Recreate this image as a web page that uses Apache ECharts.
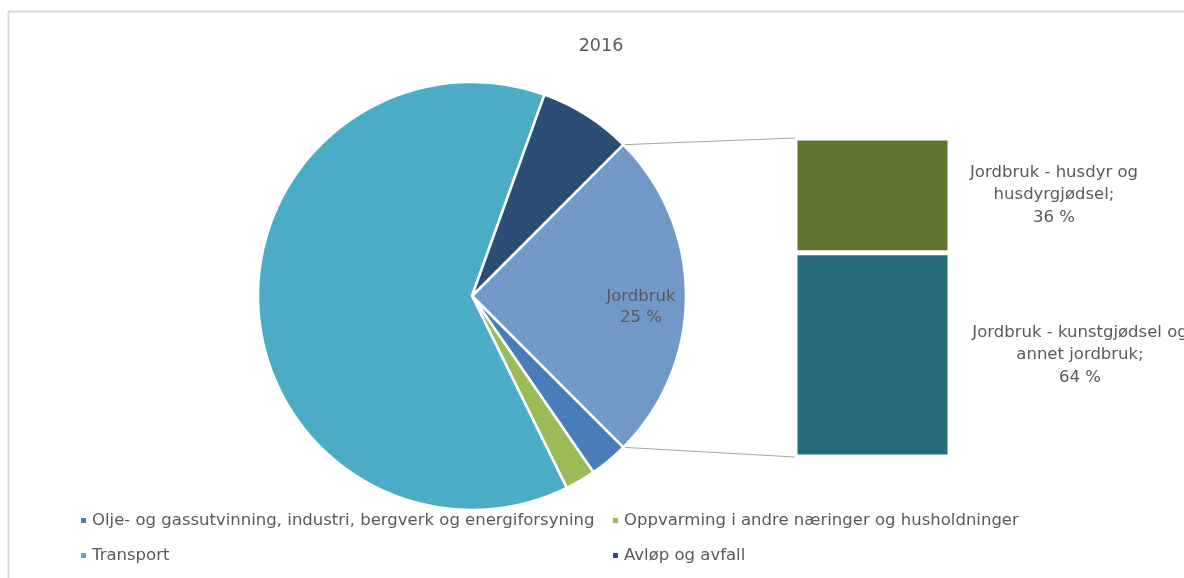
<!DOCTYPE html>
<html>
<head>
<meta charset="utf-8">
<script src="https://cdn.jsdelivr.net/npm/echarts@6/dist/echarts.min.js"></script>
<style>
  html, body { margin: 0; padding: 0; background: #fff; }
  #chart { width: 1184px; height: 578px; }
</style>
</head>
<body>
<div id="chart"></div>
<script>
// Kategorier og andeler (prosent) i sektordiagrammet
const pieNames = [
  'Jordbruk',
  'Olje- og gassutvinning, industri, bergverk og energiforsyning',
  'Oppvarming i andre næringer og husholdninger',
  'Transport',
  'Avløp og avfall'
];
const pieValues = [25, 2.9, 2.3, 62.8, 7.0];
const pieColors = ['#7099c8', '#4a7ebb', '#9bbb59', '#4bacc6', '#2c4d75'];

// Fordeling av jordbruk (stolpen til høyre)
const barNames = ['Jordbruk - kunstgjødsel og\nannet jordbruk;', 'Jordbruk - husdyr og\nhusdyrgjødsel;'];
const barValues = [64, 36];
const barColors = ['#276a7c', '#5f7530'];

const title = '2016';

// Geometri
const CX = 472, CY = 296, R = 214;
const BAR_LEFT = 795, BAR_TOP = 138, BAR_W = 155, BAR_H = 319;

const total = pieValues.reduce((a, b) => a + b, 0);
const halfAngle = pieValues[0] / total * 360 / 2; // Jordbruk sentrert mot høyre

const textColor = '#595959';
const font = 'DejaVu Sans';

const chart = echarts.init(document.getElementById('chart'));

// Forbindelseslinjer fra sektorkant til stolpehjørner
const rad = halfAngle * Math.PI / 180;
const topPt = [CX + R * Math.cos(rad), CY - R * Math.sin(rad)];
const botPt = [CX + R * Math.cos(rad), CY + R * Math.sin(rad)];

const legendBase = {
  orient: 'vertical',
  top: 512,
  padding: 0,
  itemGap: 18,
  icon: 'rect',
  itemWidth: 7,
  itemHeight: 7,
  selectedMode: false,
  textStyle: { fontFamily: font, fontSize: 16.5, color: textColor }
};

const option = {
  backgroundColor: '#fff',
  animation: false,
  title: {
    text: title,
    left: 596,
    top: 32,
    textAlign: 'center',
    textStyle: { fontFamily: font, fontSize: 17.5, fontWeight: 'normal', color: textColor }
  },
  graphic: [
    {
      type: 'rect',
      shape: { x: 8.5, y: 11.5, width: 1300, height: 700 },
      style: { fill: 'none', stroke: '#d9d9d9', lineWidth: 2 },
      z: -1
    },
    {
      type: 'line',
      shape: { x1: topPt[0], y1: topPt[1], x2: BAR_LEFT, y2: BAR_TOP },
      style: { stroke: '#a6a6a6', lineWidth: 1 }
    },
    {
      type: 'line',
      shape: { x1: botPt[0], y1: botPt[1], x2: BAR_LEFT, y2: BAR_TOP + BAR_H },
      style: { stroke: '#a6a6a6', lineWidth: 1 }
    }
  ],
  legend: [
    Object.assign({}, legendBase, { left: 79, data: [pieNames[1], pieNames[3]] }),
    Object.assign({}, legendBase, { left: 611, data: [pieNames[2], pieNames[4]] })
  ],
  grid: { left: BAR_LEFT, top: BAR_TOP, width: BAR_W, height: BAR_H },
  xAxis: { type: 'category', data: ['Jordbruk'], show: false },
  yAxis: { type: 'value', min: 0, max: 100, show: false },
  series: [
    {
      type: 'pie',
      center: [CX, CY],
      radius: R,
      startAngle: halfAngle,
      clockwise: true,
      avoidLabelOverlap: false,
      itemStyle: { borderColor: '#fff', borderWidth: 2.5 },
      label: { show: false },
      labelLine: { show: false },
      emphasis: { disabled: true },
      labelLayout: (p) => (p.dataIndex === 0 ? { dx: 59, dy: 11 } : {}),
      data: pieNames.map((n, i) => ({
        name: n,
        value: pieValues[i],
        itemStyle: { color: pieColors[i] },
        label: i === 0 ? {
          show: true,
          position: 'inside',
          formatter: '{b}\n' + Math.round(pieValues[i]) + ' %',
          fontFamily: font,
          fontSize: 16.5,
          lineHeight: 21,
          color: textColor
        } : { show: false }
      }))
    },
    ...barNames.map((n, i) => ({
      type: 'bar',
      name: n,
      stack: 'jordbruk',
      barWidth: '100%',
      emphasis: { disabled: true },
      itemStyle: { color: barColors[i], borderColor: '#fff', borderWidth: 2.5 },
      label: {
        show: true,
        position: i === 0 ? [285, 102] : [259, 57],
        align: 'center',
        verticalAlign: 'middle',
        formatter: n + '\n' + barValues[i] + ' %',
        fontFamily: font,
        fontSize: 16.5,
        lineHeight: 22.5,
        color: textColor
      },
      data: [barValues[i]]
    }))
  ]
};

chart.setOption(option);
</script>
</body>
</html>
